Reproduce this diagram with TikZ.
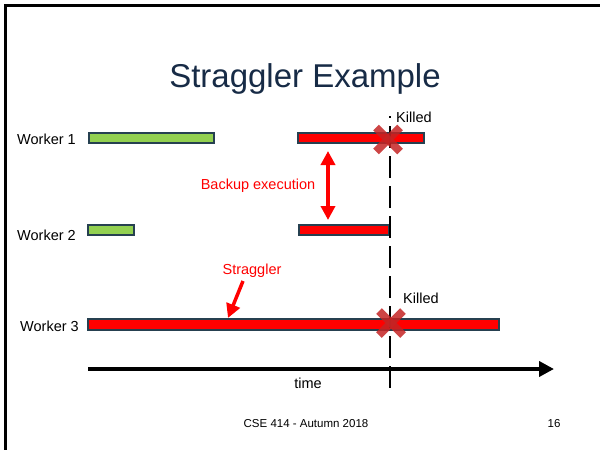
\documentclass[tikz,border=0pt]{standalone}
\usepackage{fontspec}
\setmainfont{Liberation Sans}
\usetikzlibrary{arrows.meta}
\definecolor{titleblue}{RGB}{23,43,70}
\definecolor{baredge}{RGB}{38,64,80}
\definecolor{taskgreen}{RGB}{146,208,80}
\definecolor{killred}{RGB}{196,36,36}
\tikzset{
  bar/.style={draw=baredge, line width=2pt, inner sep=0pt, minimum height=10pt},
  okbar/.style={bar, fill=taskgreen},
  slowbar/.style={bar, fill=red},
  wlabel/.style={font=\fontsize{14.5}{16}\selectfont, anchor=east, inner sep=0pt},
  note/.style={font=\fontsize{14.5}{16}\selectfont, inner sep=0pt},
  kill/.style={line width=8pt, draw=killred, opacity=0.85},
  redarrow/.style={draw=red, line width=3.5pt, -{Triangle[length=14pt,width=14pt]}},
}
\begin{document}
\begin{tikzpicture}[x=1pt,y=-1pt]
  \useasboundingbox (0,0) rectangle (600,450);
  % slide frame
  \draw[line width=3pt] (5,450) -- (5,5) -- (600,5);

  % title
  \node[font=\fontsize{33}{38}\selectfont, text=titleblue] (title) at (305,79) {Straggler Example};

  % worker labels
  \node[wlabel] (w1) at (76,139) {Worker 1};
  \node[wlabel] (w2) at (76,235) {Worker 2};
  \node[wlabel] (w3) at (79,326) {Worker 3};

  % time axis
  \coordinate (t0) at (88,369);
  \coordinate (t1) at (554,369);
  \draw[line width=4pt, -{Triangle[length=15pt,width=15pt]}] (t0) -- (t1);
  \node[note] (time) at (308,383) {time};

  % tasks
  \node[okbar, minimum width=125pt] (w1a) at (151.5,138) {};
  \node[slowbar, minimum width=126pt] (w1b) at (361,138) {};
  \node[okbar, minimum width=46pt] (w2a) at (111,230) {};
  \node[slowbar, minimum width=90pt] (w2b) at (344,230) {};
  \node[slowbar, minimum width=411pt, minimum height=11pt] (w3a) at (293.5,324.5) {};

  % kill time
  \coordinate (k0) at (390,116);
  \coordinate (k1) at (390,388);
  \draw[line width=2.5pt, dash pattern=on 22pt off 8pt, dash phase=20pt] (k0) -- (k1);

  % kill marks
  \foreach \n/\cx/\cy in {x1/388/139.5, x3/391/323} {
    \coordinate (\n) at (\cx,\cy);
    \draw[kill] ([shift={(-12,-12)}]\n) -- ([shift={(12,12)}]\n);
    \draw[kill] ([shift={(-12,12)}]\n) -- ([shift={(12,-12)}]\n);
  }
  \node[note, anchor=west] (kl1) at (396,117) {Killed};
  \node[note, anchor=west] (kl3) at (403,298) {Killed};

  % backup execution
  \coordinate (b0) at (328,186);
  \draw[redarrow] (b0) -- (328,151);
  \draw[redarrow] (b0) -- (328,220);
  \node[note, text=red] (bk) at (258,186) {Backup execution};

  % straggler
  \node[note, text=red] (st) at (252,271) {Straggler};
  \coordinate (s0) at (243,281);
  \coordinate (s1) at (228,318);
  \draw[redarrow] (s0) -- (s1);

  % footer
  \node[font=\fontsize{11.5}{13}\selectfont] (foot) at (306,424) {CSE 414 - Autumn 2018};
  \node[font=\fontsize{11.5}{13}\selectfont] (page) at (554,424) {16};
\end{tikzpicture}
\end{document}
